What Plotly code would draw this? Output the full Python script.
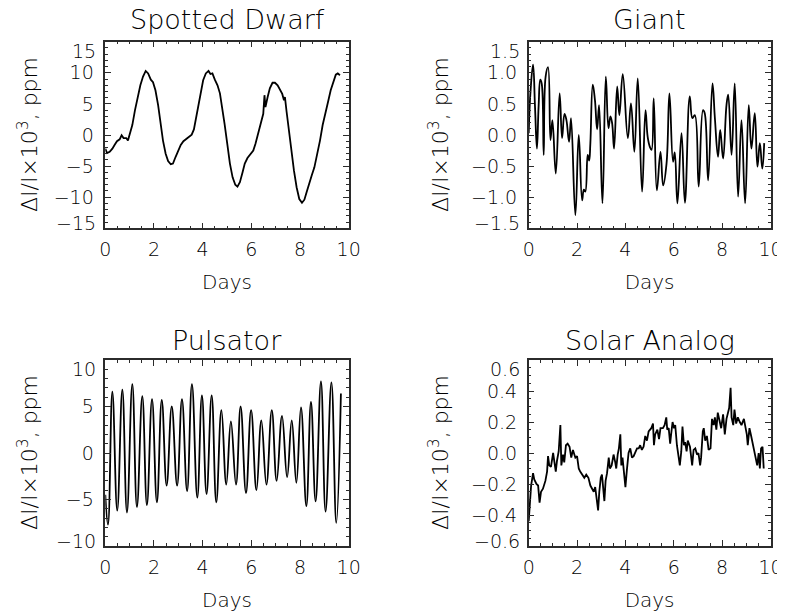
import plotly.graph_objects as go

# ---------------- data ----------------
sd_days = [0.00, 0.07, 0.18, 0.29, 0.38, 0.48, 0.59, 0.67, 0.75, 0.86,
           0.93, 1.00, 1.11, 1.22, 1.33, 1.44, 1.55, 1.66, 1.76, 1.87,
           1.96, 2.06, 2.17, 2.26, 2.37, 2.48, 2.58, 2.69, 2.78, 2.89,
           3.00, 3.10, 3.21, 3.33, 3.44, 3.55, 3.64, 3.72, 3.80, 3.85,
           3.91, 4.02, 4.13, 4.24, 4.32, 4.40, 4.50, 4.61, 4.71, 4.80,
           4.90, 5.01, 5.12, 5.23, 5.34, 5.43, 5.53, 5.64, 5.73, 5.84,
           5.95, 6.08, 6.17, 6.27, 6.38, 6.49, 6.54, 6.58, 6.67, 6.76,
           6.87, 6.97, 7.08, 7.17, 7.27, 7.34, 7.38, 7.45, 7.54, 7.65,
           7.75, 7.86, 7.97, 8.08, 8.18, 8.27, 8.38, 8.48, 8.59, 8.70,
           8.82, 8.93, 9.04, 9.15, 9.26, 9.37, 9.47, 9.55, 9.64]
sd_vals = [-2.2, -2.9, -2.7, -2.2, -1.6, -1.0, -0.7, -0.05, -0.5, -0.5,
           -0.9, -0.05, 1.6, 4.0, 6.1, 8.0, 9.4, 10.3, 9.9, 8.9,
           8.5, 7.2, 4.8, 2.1, -0.9, -3.0, -4.2, -4.7, -4.6, -3.5,
           -2.5, -1.6, -1.0, -0.65, -0.4, 0.05, 0.9, 2.6, 4.5, 5.6,
           6.9, 8.8, 9.9, 10.3, 9.8, 9.9, 8.9, 8.0, 6.7, 4.5,
           1.8, -1.4, -4.6, -6.8, -8.0, -8.3, -7.6, -6.0, -4.6, -3.7,
           -3.1, -2.5, -1.4, 0.2, 1.8, 3.4, 6.4, 4.5, 6.1, 7.5,
           8.4, 8.4, 8.0, 7.3, 6.6, 5.6, 6.1, 3.7, 0.75, -2.5,
           -5.7, -8.4, -10.3, -10.9, -10.4, -9.2, -7.6, -6.5, -5.2, -3.3,
           -0.9, 1.6, 3.7, 5.3, 7.2, 8.5, 9.7, 9.9, 9.6]

gi_days = [0.00, 0.08, 0.18, 0.26, 0.34, 0.41, 0.48, 0.54, 0.62, 0.70,
           0.80, 0.90, 0.98, 1.12, 1.28, 1.38, 1.48, 1.56, 1.67, 1.75,
           1.93, 2.07, 2.21, 2.28, 2.34, 2.44, 2.50, 2.55, 2.65, 2.74,
           2.83, 2.91, 3.05, 3.19, 3.30, 3.38, 3.45, 3.53, 3.66, 3.75,
           3.89, 4.10, 4.23, 4.37, 4.51, 4.69, 4.83, 4.92, 5.01, 5.08,
           5.17, 5.30, 5.45, 5.56, 5.70, 5.82, 5.97, 6.04, 6.15, 6.32,
           6.46, 6.66, 6.77, 6.87, 7.03, 7.21, 7.28, 7.42, 7.60, 7.70,
           7.83, 7.92, 8.04, 8.18, 8.25, 8.39, 8.52, 8.66, 8.80, 8.95,
           9.10, 9.21, 9.35, 9.46, 9.56, 9.66, 9.74]
gi_vals = [0.03, 0.73, 1.13, 0.46, -0.22, 0.46, 0.89, 0.82, -0.32, 0.94,
           1.09, -0.08, 0.24, -0.62, 0.67, -0.05, 0.34, 0.24, -0.11, 0.27,
           -1.29, 0.00, -1.05, -0.88, -0.91, -0.32, -0.41, -0.13, 0.81, 0.56,
           0.09, 0.48, -1.10, 0.94, 0.11, 0.30, 0.19, -0.22, 0.78, 0.32,
           0.98, -0.05, 0.51, -0.27, 0.91, -0.91, 0.40, -0.03, -0.19, -0.24,
           0.59, -0.89, -0.27, -0.81, -0.46, 0.67, -0.43, -0.28, -1.10, 0.03,
           -1.09, 0.62, 0.27, 0.32, -0.83, 0.40, 0.35, -0.73, 0.83, 0.27,
           -0.35, 0.08, -0.38, 0.48, 0.65, -0.32, 0.83, -0.99, 0.24, -1.10,
           0.48, -0.22, 0.35, -0.51, -0.13, -0.54, -0.13]

pu_days = [0.00, 0.11, 0.29, 0.49, 0.70, 0.89, 1.11, 1.30, 1.52, 1.71,
           1.92, 2.12, 2.32, 2.52, 2.73, 2.95, 3.15, 3.36, 3.56, 3.78,
           3.97, 4.16, 4.37, 4.56, 4.77, 4.97, 5.16, 5.37, 5.56, 5.78,
           5.99, 6.21, 6.41, 6.62, 6.84, 7.04, 7.26, 7.47, 7.66, 7.85,
           8.04, 8.26, 8.45, 8.64, 8.86, 9.05, 9.29, 9.49, 9.68]
pu_vals = [-4.5, -7.7, 6.6, -6.2, 6.8, -6.4, 7.4, -5.8, 6.1, -5.6,
           5.8, -5.3, 5.7, -3.5, 5.0, -3.5, 5.8, -4.1, 7.4, -4.8,
           6.2, -4.4, 6.2, -5.3, 4.6, -3.4, 3.4, -3.4, 5.0, -4.3,
           4.6, -4.0, 3.5, -3.4, 4.6, -3.0, 4.0, -2.6, 3.5, -3.2,
           4.9, -5.7, 5.5, -5.2, 7.7, -6.3, 7.6, -7.5, 6.4]

sa_days = [0.00, 0.10, 0.18, 0.23, 0.32, 0.39, 0.45, 0.51, 0.59, 0.69,
           0.76, 0.80, 0.85, 0.92, 1.01, 1.06, 1.12, 1.17, 1.24, 1.31,
           1.35, 1.42, 1.47, 1.54, 1.61, 1.69, 1.76, 1.83, 1.93, 2.00,
           2.07, 2.13, 2.22, 2.30, 2.38, 2.47, 2.55, 2.63, 2.69, 2.75,
           2.82, 2.87, 2.92, 2.98, 3.03, 3.09, 3.13, 3.18, 3.24, 3.31,
           3.36, 3.43, 3.51, 3.58, 3.62, 3.68, 3.73, 3.79, 3.83, 3.88,
           3.93, 4.00, 4.06, 4.13, 4.20, 4.27, 4.34, 4.41, 4.48, 4.55,
           4.61, 4.68, 4.75, 4.82, 4.89, 4.96, 5.07, 5.14, 5.18, 5.23,
           5.32, 5.39, 5.45, 5.55, 5.62, 5.69, 5.73, 5.79, 5.85, 5.89,
           5.95, 6.01, 6.06, 6.13, 6.20, 6.25, 6.31, 6.36, 6.42, 6.47,
           6.53, 6.58, 6.67, 6.72, 6.76, 6.82, 6.89, 6.96, 7.02, 7.09,
           7.13, 7.20, 7.24, 7.30, 7.37, 7.44, 7.52, 7.58, 7.65, 7.70,
           7.76, 7.82, 7.89, 7.96, 8.04, 8.11, 8.18, 8.24, 8.29, 8.35,
           8.39, 8.46, 8.51, 8.58, 8.65, 8.73, 8.80, 8.90, 8.97, 9.02,
           9.06, 9.13, 9.20, 9.27, 9.34, 9.39, 9.45, 9.51, 9.56, 9.61,
           9.67, 9.72]
sa_vals = [-0.44, -0.21, -0.13, -0.17, -0.20, -0.21, -0.32, -0.25, -0.23, -0.18,
           -0.12, -0.02, -0.08, -0.09, 0.00, -0.06, -0.12, -0.05, 0.01, 0.18,
           -0.08, -0.01, -0.06, 0.05, 0.06, 0.04, -0.03, 0.02, -0.03, -0.02,
           -0.10, -0.12, -0.14, -0.16, -0.14, -0.16, -0.21, -0.24, -0.25, -0.22,
           -0.29, -0.37, -0.25, -0.16, -0.14, -0.23, -0.31, -0.18, -0.13, -0.03,
           -0.10, -0.08, -0.01, -0.06, -0.10, -0.01, 0.03, 0.12, -0.08, -0.03,
           -0.12, -0.22, -0.11, 0.00, 0.03, -0.03, -0.02, 0.01, 0.03, 0.03,
           0.05, 0.02, 0.04, 0.11, 0.08, 0.14, 0.16, 0.19, 0.05, 0.12,
           0.15, 0.09, 0.16, 0.16, 0.18, 0.23, 0.15, 0.16, 0.06, 0.12,
           0.20, 0.16, 0.18, 0.05, -0.03, -0.08, 0.01, 0.17, 0.05, 0.07,
           0.01, 0.08, 0.04, -0.03, -0.08, 0.02, 0.03, -0.01, 0.00, -0.08,
           -0.03, 0.14, 0.16, 0.08, 0.11, 0.02, 0.03, 0.22, 0.18, 0.23,
           0.15, 0.26, 0.20, 0.16, 0.25, 0.12, 0.22, 0.27, 0.29, 0.42,
           0.23, 0.18, 0.28, 0.19, 0.23, 0.20, 0.18, 0.22, 0.16, 0.12,
           0.05, 0.16, 0.11, 0.06, 0.02, -0.03, -0.08, 0.00, -0.10, 0.03,
           0.04, -0.10]

x_ticks = [0, 2, 4, 6, 8, 10]
sd_yticks = [-15, -10, -5, 0, 5, 10, 15]
gi_yticks = [-1.5, -1.0, -0.5, 0.0, 0.5, 1.0, 1.5]
pu_yticks = [-10, -5, 0, 5, 10]
sa_yticks = [-0.6, -0.4, -0.2, 0.0, 0.2, 0.4, 0.6]

titles = ["Spotted Dwarf", "Giant", "Pulsator", "Solar Analog"]
y_title = "ΔI/I×10<sup>3</sup>, ppm"
x_title = "Days"

# ---------------- styling / layout ----------------
OFF = 8                      # page body margin of the rendered html
W, H = 785 - OFF, 615 - OFF  # figure fits the window exactly
FONT = "DejaVu Sans"
WT = 200
INK = "#000000"
AX = "#2b2b2b"
TICK_SIZE = 19


def fx(px):   # page pixel -> paper x
    return (px - OFF) / W


def fy(py):   # page pixel -> paper y
    return 1 - (py - OFF) / H


def fmt(v, dec):
    s = f"{v:.{dec}f}"
    return s.replace("-", "\u2212")


panels = [
    dict(x=sd_days, y=sd_vals, ticks=sd_yticks, dec=0, minor=1.0, shape="linear",
         box=(105.3, 348.7, 41.7, 228.3), ty=19, yt=28),
    dict(x=gi_days, y=gi_vals, ticks=gi_yticks, dec=1, minor=0.1, shape="spline",
         box=(528.7, 770.5, 41.7, 228.3), ty=19, yt=439),
    dict(x=pu_days, y=pu_vals, ticks=pu_yticks, dec=0, minor=1.0, shape="spline",
         box=(105.3, 348.7, 360.0, 546.0), ty=340.5, yt=28),
    dict(x=sa_days, y=sa_vals, ticks=sa_yticks, dec=1, minor=0.05, shape="linear",
         box=(528.7, 770.5, 360.0, 546.0), ty=340.5, yt=439),
]

fig = go.Figure()
layout = dict(width=W, height=H, margin=dict(l=0, r=0, t=0, b=0, autoexpand=False),
              paper_bgcolor="white", plot_bgcolor="white", showlegend=False,
              font=dict(family=FONT, color=INK, size=18, weight=WT))
annotations = []

common = dict(showline=True, linecolor=AX, linewidth=1.5, mirror="allticks",
              ticks="inside", tickcolor=AX, tickwidth=1.2, ticklen=6,
              showgrid=False, zeroline=False, automargin=False,
              tickfont=dict(family=FONT, size=TICK_SIZE, color=INK, weight=WT))

for i, p in enumerate(panels):
    n = i + 1
    s = "" if n == 1 else str(n)
    x0, x1, y0, y1 = p["box"]
    lo, hi = p["ticks"][0], p["ticks"][-1]

    fig.add_trace(go.Scatter(x=p["x"], y=p["y"], xaxis="x" + s, yaxis="y" + s,
                             mode="lines", hoverinfo="skip",
                             line=dict(color="black", width=1.8, shape=p["shape"],
                                       smoothing=1.2)))

    layout["xaxis" + s] = dict(
        domain=[fx(x0), fx(x1)], anchor="y" + s, range=[0, 10],
        tickmode="array", tickvals=x_ticks, ticktext=[str(v) for v in x_ticks],
        ticklabelstandoff=3,
        minor=dict(ticks="inside", tickmode="linear", tick0=0, dtick=0.5,
                   ticklen=3, tickcolor=AX, tickwidth=1),
        title=dict(text=x_title, standoff=16,
                   font=dict(family=FONT, size=20, color=INK, weight=WT)),
        **common)

    inner = p["ticks"][1:-1]
    layout["yaxis" + s] = dict(
        domain=[fy(y1), fy(y0)], anchor="x" + s, range=[lo, hi],
        tickmode="array", tickvals=inner, ticktext=[fmt(v, p["dec"]) for v in inner],
        ticklabelstandoff=6,
        minor=dict(ticks="inside", tickmode="linear", tick0=0, dtick=p["minor"],
                   ticklen=3, tickcolor=AX, tickwidth=1),
        **common)

    # the end labels of each y scale sit slightly inside the frame, as in the reference
    for v, shift in [(hi, -9), (lo, 5)]:
        annotations.append(dict(text=fmt(v, p["dec"]), xref="paper", yref="y" + s,
                                x=fx(x0 - 7), y=v, yshift=shift,
                                xanchor="right", yanchor="middle", showarrow=False,
                                font=dict(family=FONT, size=TICK_SIZE, color=INK, weight=WT)))

    # y-axis title
    annotations.append(dict(text=y_title, xref="paper", yref="paper",
                            x=fx(p["yt"]), y=fy((y0 + y1) / 2), textangle=-90,
                            xanchor="center", yanchor="middle", showarrow=False,
                            font=dict(family=FONT, size=22, color=INK, weight=WT)))

    # panel title
    annotations.append(dict(text=titles[i], xref="paper", yref="paper",
                            x=fx((x0 + x1) / 2), y=fy(p["ty"]),
                            xanchor="center", yanchor="middle", showarrow=False,
                            font=dict(family=FONT, size=27, color=INK, weight=WT)))

layout["annotations"] = annotations
fig.update_layout(**layout)
fig.write_html("out.html")
